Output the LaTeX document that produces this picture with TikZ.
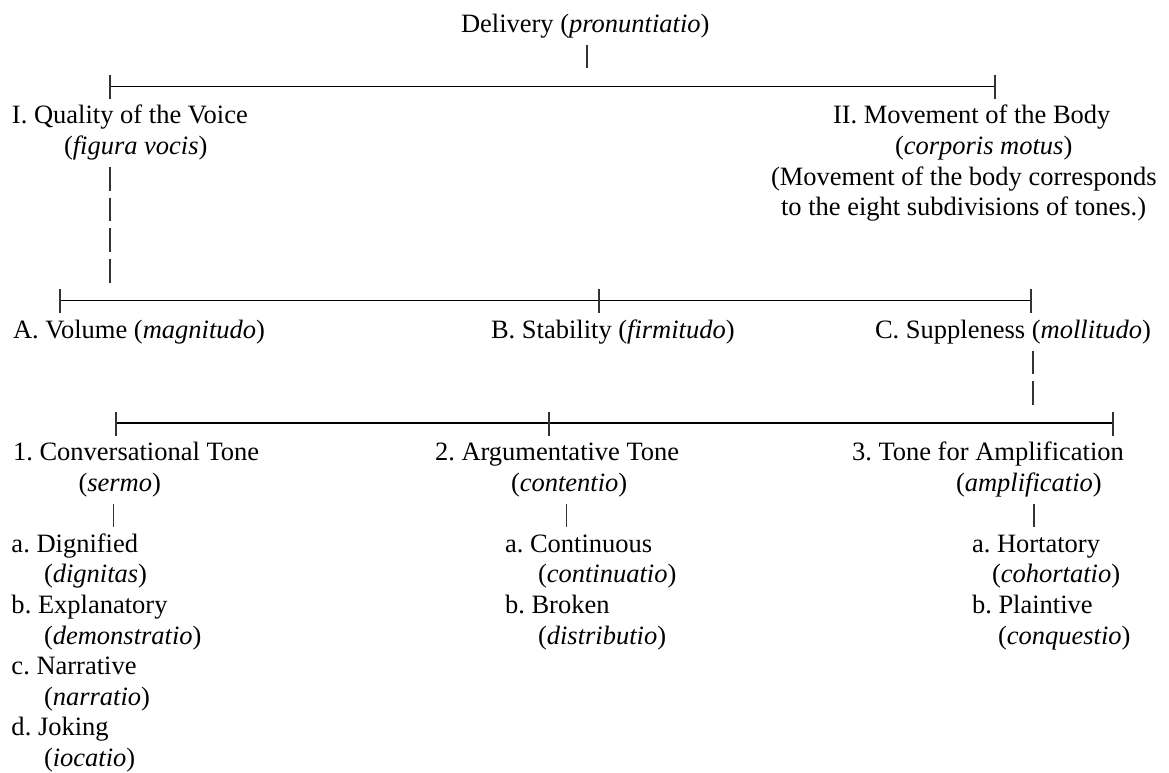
\documentclass[tikz,border=0pt]{standalone}
\usepackage{fontspec}
\setmainfont{Liberation Serif}
\frenchspacing
\begin{document}
\begin{tikzpicture}[x=1pt,y=-1pt,
  lbl/.style={anchor=base west,inner sep=0pt,outer sep=0pt,font=\fontsize{26.5}{30.6}\selectfont\frenchspacing},
  rulebar/.style={line width=1.4pt,black},
  tickbar/.style={line width=1.1pt,black!80}]
\useasboundingbox (0,0) rectangle (1169,772);
% ---------------- text nodes ----------------
\node[lbl] (del) at (461,32) {Delivery (\textit{pronuntiatio})};
\node[lbl] (q1) at (12,123.8) {I. Quality of the Voice};
\node[lbl] (q2) at (64,154.4) {(\textit{figura vocis})};
\node[lbl] (m1) at (833,123.8) {II. Movement of the Body};
\node[lbl] (m2) at (895,154.4) {(\textit{corporis motus})};
\node[lbl] (m3) at (771,185) {(Movement of the body corresponds};
\node[lbl] (m4) at (781,215.6) {to the eight subdivisions of tones.)};
\node[lbl] (nA) at (13,338) {A. Volume (\textit{magnitudo})};
\node[lbl] (nB) at (491,338) {B. Stability (\textit{firmitudo})};
\node[lbl] (nC) at (875,338) {C. Suppleness (\textit{mollitudo})};
\node[lbl] (t1) at (13,460.4) {1. Conversational Tone};
\node[lbl] (t1b) at (78.5,491) {(\textit{sermo})};
\node[lbl] (t2) at (435,460.4) {2. Argumentative Tone};
\node[lbl] (t2b) at (511,491) {(\textit{contentio})};
\node[lbl] (t3) at (852,460.4) {3. Tone for Amplification};
\node[lbl] (t3b) at (956,491) {(\textit{amplificatio})};
\node[lbl] (a1) at (11.5,552.2) {a. Dignified};
\node[lbl] (a1b) at (44,582.8) {(\textit{dignitas})};
\node[lbl] (b1) at (11.5,613.4) {b. Explanatory};
\node[lbl] (b1b) at (44,644) {(\textit{demonstratio})};
\node[lbl] (c1) at (11.5,674.6) {c. Narrative};
\node[lbl] (c1b) at (44,705.2) {(\textit{narratio})};
\node[lbl] (d1) at (11.5,735.8) {d. Joking};
\node[lbl] (d1b) at (44,766.4) {(\textit{iocatio})};
\node[lbl] (a2) at (505,552.2) {a. Continuous};
\node[lbl] (a2b) at (538,582.8) {(\textit{continuatio})};
\node[lbl] (b2) at (505,613.4) {b. Broken};
\node[lbl] (b2b) at (538,644) {(\textit{distributio})};
\node[lbl] (a3) at (972,552.2) {a. Hortatory};
\node[lbl] (a3b) at (992,582.8) {(\textit{cohortatio})};
\node[lbl] (b3) at (972,613.4) {b. Plaintive};
\node[lbl] (b3b) at (998,644) {(\textit{conquestio})};
% ---------------- connector coordinates ----------------
% level 1
\coordinate (k0a) at (587,44.6);   \coordinate (k0b) at (587,68.3);
\coordinate (h1L) at (110,86.2);   \coordinate (h1R) at (995,86.2);
\coordinate (k1a) at (110,75.2);   \coordinate (k1b) at (110,98.9);
\coordinate (k2a) at (995,75.2);   \coordinate (k2b) at (995,98.9);
% stacked ticks under figura vocis
\coordinate (f1a) at (110,167);    \coordinate (f1b) at (110,190.7);
\coordinate (f2a) at (110,197.6);  \coordinate (f2b) at (110,221.3);
\coordinate (f3a) at (110,228.2);  \coordinate (f3b) at (110,251.9);
\coordinate (f4a) at (110,258.8);  \coordinate (f4b) at (110,282.5);
% level 2
\coordinate (h2L) at (60,300.4);   \coordinate (h2R) at (1031,300.4);
\coordinate (l2a) at (60,289.4);   \coordinate (l2b) at (60,313.1);
\coordinate (l3a) at (599,289.4);  \coordinate (l3b) at (599,313.1);
\coordinate (l4a) at (1031,289.4); \coordinate (l4b) at (1031,313.1);
% ticks under Suppleness
\coordinate (s1a) at (1033,350.6); \coordinate (s1b) at (1033,374.3);
\coordinate (s2a) at (1033,381.2); \coordinate (s2b) at (1033,404.9);
% level 3
\coordinate (h3L) at (116,422.8);  \coordinate (h3R) at (1113,422.8);
\coordinate (p1a) at (116,411.8);  \coordinate (p1b) at (116,435.5);
\coordinate (p2a) at (549,411.8);  \coordinate (p2b) at (549,435.5);
\coordinate (p3a) at (1113,411.8); \coordinate (p3b) at (1113,435.5);
% ticks under tones
\coordinate (u1a) at (113.7,503.6); \coordinate (u1b) at (113.7,527.3);
\coordinate (u2a) at (566.5,503.6); \coordinate (u2b) at (566.5,527.3);
\coordinate (u3a) at (1034,503.6);  \coordinate (u3b) at (1034,527.3);
% ---------------- connectors ----------------
\draw[rulebar] (h1L) -- (h1R);
\draw[rulebar] (h2L) -- (h2R);
\draw[rulebar] (h3L) -- (h3R);
\foreach \p in {k0,k1,k2,f1,f2,f3,f4,l2,l3,l4,s1,s2,p1,p2,p3,u1,u2,u3}
  \draw[tickbar] (\p a) -- (\p b);
\end{tikzpicture}
\end{document}
